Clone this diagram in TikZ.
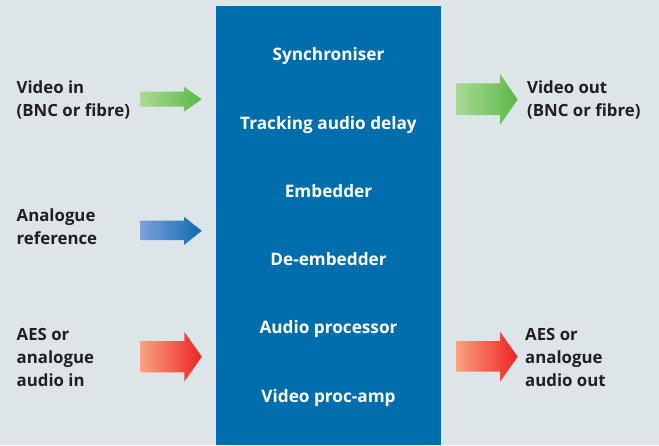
\documentclass[tikz,border=0pt]{standalone}
\usepackage{fontspec}
\setmainfont{Open Sans}
\definecolor{bgc}{RGB}{221,229,233}
\definecolor{boxblue}{RGB}{0,109,172}
\definecolor{txt}{RGB}{35,31,32}
\definecolor{gL}{RGB}{170,218,150}
\definecolor{gR}{RGB}{90,185,68}
\definecolor{bL}{RGB}{124,160,215}
\definecolor{bR}{RGB}{16,106,180}
\definecolor{rL}{RGB}{249,162,126}
\definecolor{rR}{RGB}{237,34,36}
\begin{document}
\begin{tikzpicture}[x=1pt,y=-1pt,
  lbl/.style={anchor=base west,inner sep=0pt,text=txt,font=\fontsize{16.8}{23}\selectfont\bfseries},
  inner/.style={anchor=base,inner sep=0pt,text=white,font=\fontsize{17.2}{23}\selectfont\bfseries}]
\useasboundingbox (0,0) rectangle (659,445);
\fill[bgc] (0,0) rectangle (659,445);
\fill[boxblue] (216,6) rectangle (441,445);
% inner labels
\node[inner] (sync) at (328.5,60) {Synchroniser};
\node[inner] (track) at (328.5,129) {Tracking audio delay};
\node[inner] (emb) at (328.5,197) {Embedder};
\node[inner] (demb) at (328.5,265) {De-embedder};
\node[inner] (aproc) at (328.5,333) {Audio processor};
\node[inner] (vproc) at (328.5,402) {Video proc-amp};
% arrows
\shade[left color=gL,right color=gR] (140.7,91.7) -- (184,91.7) -- (184,86.7) -- (201.7,99.2) -- (184,111.7) -- (184,106.7) -- (140.7,106.7) -- cycle;
\shade[left color=gL,right color=gR] (456,83.3) -- (500,83.3) -- (500,74) -- (517.7,99.5) -- (500,125) -- (500,115) -- (456,115) -- cycle;
\shade[left color=bL,right color=bR] (140.7,220.7) -- (184,220.7) -- (184,216.7) -- (201.7,230.8) -- (184,245) -- (184,240) -- (140.7,240) -- cycle;
\shade[left color=rL,right color=rR] (140.7,341) -- (184.3,341) -- (184.3,331.7) -- (201.7,356.7) -- (184.3,381.7) -- (184.3,372.3) -- (140.7,372.3) -- cycle;
\shade[left color=rL,right color=rR] (456,341) -- (500,341) -- (500,331.7) -- (517.7,356.7) -- (500,381.7) -- (500,371.7) -- (456,371.7) -- cycle;
% outer labels
\node[lbl] (vin1) at (16.5,93.3) {Video in};
\node[lbl] (vin2) at (16.5,116.5) {(BNC or fibre)};
\node[lbl] (ar1) at (16.5,221.5) {Analogue};
\node[lbl] (ar2) at (16.5,244.7) {reference};
\node[lbl] (ain1) at (16.5,340) {AES or};
\node[lbl] (ain2) at (16.5,363.3) {analogue};
\node[lbl] (ain3) at (16.5,386.6) {audio in};
\node[lbl] (vout1) at (527,93.3) {Video out};
\node[lbl] (vout2) at (527,116.5) {(BNC or fibre)};
\node[lbl] (aout1) at (525,340) {AES or};
\node[lbl] (aout2) at (525,363.3) {analogue};
\node[lbl] (aout3) at (525,386.6) {audio out};
\end{tikzpicture}
\end{document}
